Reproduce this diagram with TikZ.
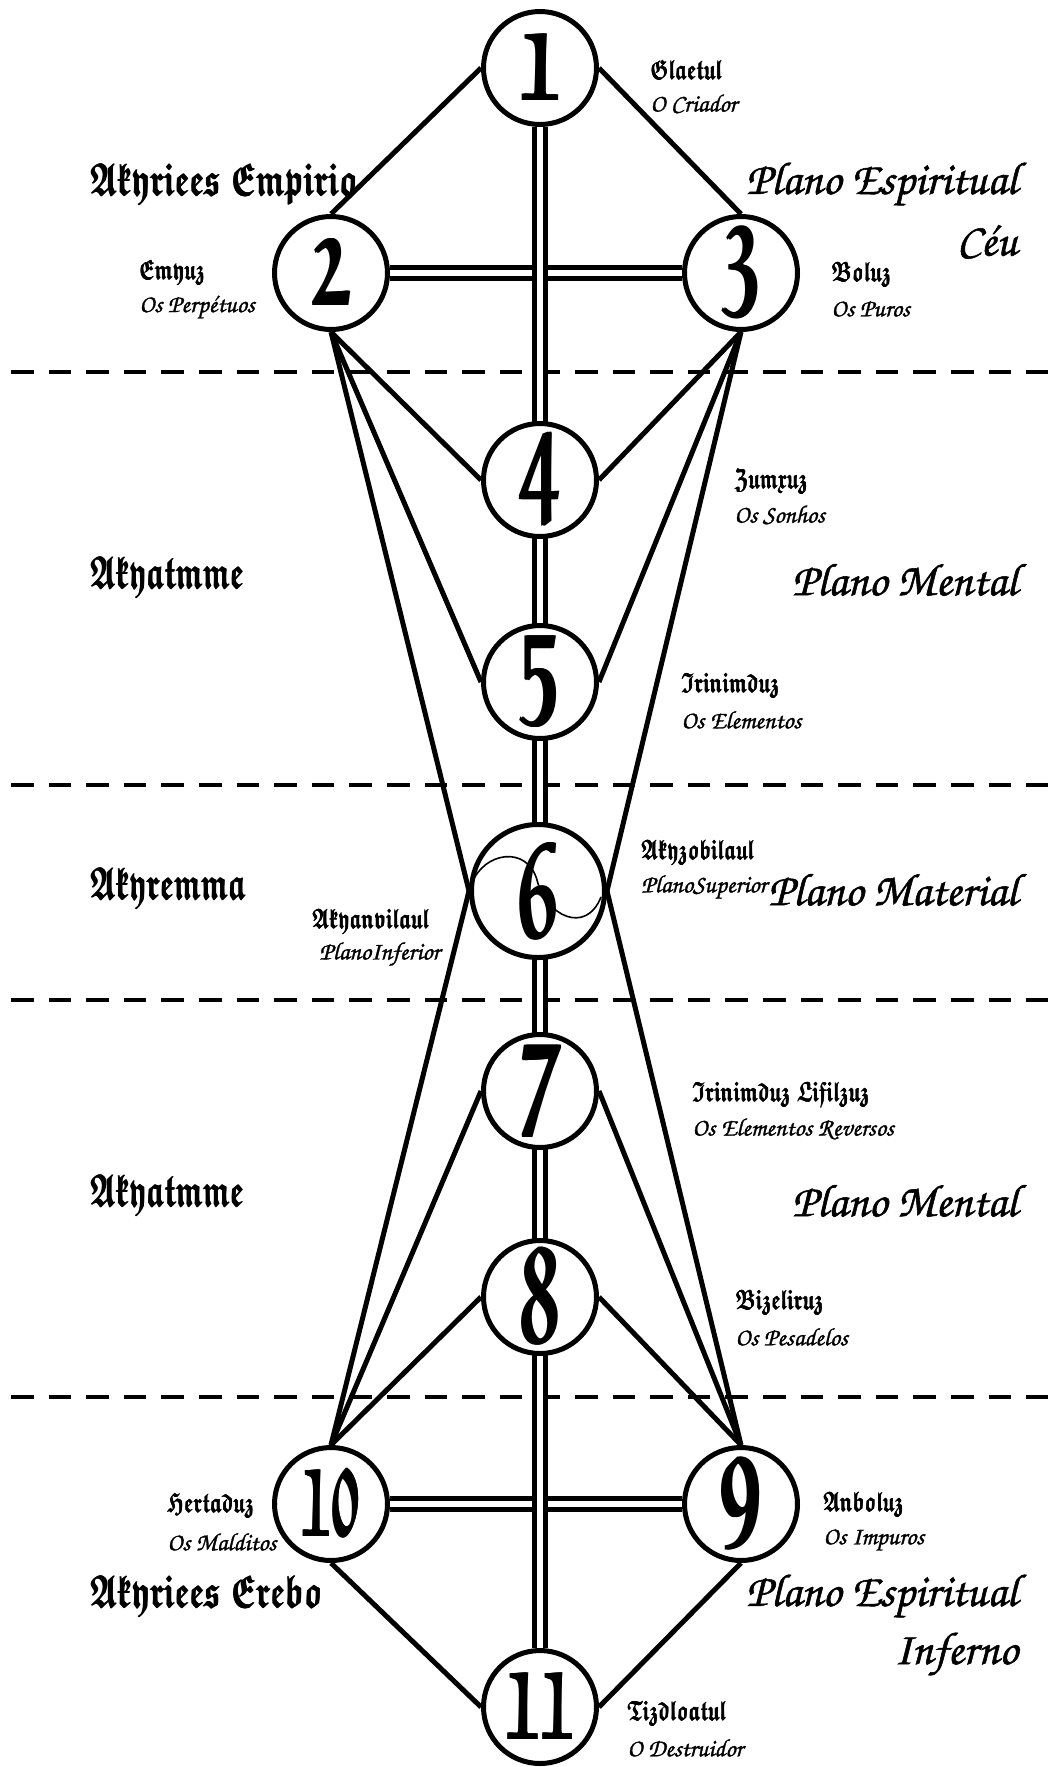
\documentclass[tikz,border=0pt]{standalone}
\usepackage{fontspec}
\usepackage{amsfonts}
\usepackage{graphicx}
\usetikzlibrary{backgrounds}

% calligraphic italic
\newfontfamily\chanc[FakeBold=1.2]{TeX Gyre Chorus}
% bold Euler Fraktur for the blackletter names and numerals
\newcommand\frk{\fontencoding{U}\fontfamily{euf}\fontseries{b}\fontshape{n}\selectfont}
\newcommand\gap{\hspace{0.35em}}
% thicken the vertical strokes by overprinting with small shifts
\newcommand\heavy[2]{\leavevmode\rlap{\hspace{#1}#2}\rlap{\hspace{-#1}#2}#2}
% narrow, tall blackletter
\newcommand\narrow[3]{\scalebox{#1}[1]{\heavy{#2}{#3}}}
\newcommand\numeral[2][0.77]{\scalebox{#1}[1.55]{\heavy{0.7pt}{#2}}}

\tikzset{
  sephira/.style={circle, draw, line width=2.5pt, fill=white, inner sep=0pt,
    minimum size=56.5pt, font=\frk\fontsize{44}{44}\selectfont},
  link/.style={line width=2.5pt},
  twin/.style={double, line width=2.5pt, double distance=2.6pt},
  divider/.style={line width=2pt, dash pattern=on 11.3pt off 7.5pt},
  bignameL/.style={anchor=west, inner sep=0pt, font=\frk\fontsize{23}{23}\selectfont},
  planeR/.style={anchor=east, inner sep=0pt, font=\chanc\fontsize{23}{23}\selectfont},
  nameL/.style={anchor=west, inner sep=0pt, font=\frk\fontsize{14}{14}\selectfont},
  glossL/.style={anchor=west, inner sep=0pt, font=\chanc\fontsize{12.5}{12.5}\selectfont},
}

\begin{document}
\begin{tikzpicture}[x=0.5pt, y=-0.5pt]
\useasboundingbox (0,0) rectangle (1048,1767);

% the eleven spheres
\node[sephira] (n1)  at (540,68)   {\numeral{1}};
\node[sephira] (n2)  at (331,273)  {\numeral{2}};
\node[sephira] (n3)  at (741,273)  {\numeral{3}};
\node[sephira] (n4)  at (540,480)  {\numeral{4}};
\node[sephira] (n5)  at (540,682)  {\numeral{5}};
\node[sephira, minimum size=66.5pt] (n6) at (538,891) {\numeral{6}};
\node[sephira] (n7)  at (540,1091) {\numeral{7}};
\node[sephira] (n8)  at (540,1297) {\numeral{8}};
\node[sephira] (n10) at (331,1504) {\numeral[0.58]{10}};
\node[sephira] (n9)  at (741,1504) {\numeral{9}};
\node[sephira] (n11) at (540,1707) {\numeral[0.66]{11}};

% thin loop inside sphere 6
\draw[line width=0.8pt] (472,883) .. controls (484,852) and (527,845) .. (537,880)
  .. controls (546,916) and (586,935) .. (601,897);

\begin{pgfonlayer}{background}
  % dividing lines between the planes
  \coordinate (dL1) at (11,372);   \coordinate (dR1) at (1048,372);
  \coordinate (dL2) at (11,785);   \coordinate (dR2) at (1048,785);
  \coordinate (dL3) at (11,1000);  \coordinate (dR3) at (1048,1000);
  \coordinate (dL4) at (11,1397);  \coordinate (dR4) at (1048,1397);
  \draw[divider] (dL1) -- (dR1);
  \draw[divider] (dL2) -- (dR2);
  \draw[divider] (dL3) -- (dR3);
  \draw[divider] (dL4) -- (dR4);

  % single paths
  \draw[link] (n1.west) -- (n2.north);
  \draw[link] (n1.east) -- (n3.north);
  \draw[link] (n2.south) -- (n4.west);
  \draw[link] (n2.south) -- (n5.west);
  \draw[link] (n2.south) -- (n6.west);
  \draw[link] (n3.south) -- (n4.east);
  \draw[link] (n3.south) -- (n5.east);
  \draw[link] (n3.south) -- (n6.east);
  \draw[link] (n10.north) -- (n7.west);
  \draw[link] (n10.north) -- (n8.west);
  \draw[link] (n10.north) -- (n6.west);
  \draw[link] (n9.north) -- (n7.east);
  \draw[link] (n9.north) -- (n8.east);
  \draw[link] (n9.north) -- (n6.east);
  \draw[link] (n10.south) -- (n11.west);
  \draw[link] (n9.south) -- (n11.east);

  % double paths
  \draw[twin] (n2.east) -- (n3.west);
  \draw[twin] (n10.east) -- (n9.west);
  \draw[twin] (n1.south) -- (n11.north);
\end{pgfonlayer}

% plane names, left
\node[bignameL] (aemp) at (90,184)   {\narrow{0.68}{0.35pt}{Akyriees\gap Empirio}};
\node[bignameL] (aat1) at (90,577)   {\narrow{0.64}{0.35pt}{Akyatmme}};
\node[bignameL] (arem) at (90,888)   {\narrow{0.64}{0.35pt}{Akyremma}};
\node[bignameL] (aat2) at (90,1195)  {\narrow{0.64}{0.35pt}{Akyatmme}};
\node[bignameL] (aere) at (90,1596)  {\narrow{0.68}{0.35pt}{Akyriees\gap Erebo}};

% plane names, right
\node[planeR] (pesp1) at (1018,184)  {Plano Espiritual};
\node[planeR] (pceu)  at (1018,242)  {Céu};
\node[planeR] (pmen1) at (1018,580)  {Plano Mental};
\node[planeR] (pmat)  at (1018,890)  {Plano Material};
\node[planeR] (pmen2) at (1018,1201) {Plano Mental};
\node[planeR] (pesp2) at (1018,1596) {Plano Espiritual};
\node[planeR] (pinf)  at (1018,1654) {Inferno};

% sphere names and glosses
\node[nameL]  (t1a)  at (650,70)   {\narrow{0.7}{0.22pt}{Glaetul}};
\node[glossL] (t1b)  at (650,104)  {O Criador};
\node[nameL]  (t2a)  at (139,272)  {\narrow{0.7}{0.22pt}{Emyuz}};
\node[glossL] (t2b)  at (139,307)  {Os Perpétuos};
\node[nameL]  (t3a)  at (831,274)  {\narrow{0.7}{0.22pt}{Boluz}};
\node[glossL] (t3b)  at (831,309)  {Os Puros};
\node[nameL]  (t4a)  at (734,481)  {\narrow{0.7}{0.22pt}{Zumxuz}};
\node[glossL] (t4b)  at (734,515)  {Os Sonhos};
\node[nameL]  (t5a)  at (681,685)  {\narrow{0.7}{0.22pt}{Irinimduz}};
\node[glossL] (t5b)  at (681,720)  {Os Elementos};
\node[nameL]  (t6a)  at (641,852)  {\narrow{0.7}{0.22pt}{Akyzobilaul}};
\node[glossL] (t6b)  at (641,887)  {PlanoSuperior};
\node[nameL]  (t6c)  at (312,921)  {\narrow{0.7}{0.22pt}{Akyanvilaul}};
\node[glossL] (t6d)  at (319,954)  {PlanoInferior};
\node[nameL]  (t7a)  at (692,1094) {\narrow{0.7}{0.22pt}{Irinimduz\gap Lifilzuz}};
\node[glossL] (t7b)  at (692,1129) {Os Elementos Reversos};
\node[nameL]  (t8a)  at (735,1302) {\narrow{0.7}{0.22pt}{Bizeliruz}};
\node[glossL] (t8b)  at (735,1337) {Os Pesadelos};
\node[nameL]  (t10a) at (167,1505) {\narrow{0.7}{0.22pt}{Hertaduz}};
\node[glossL] (t10b) at (167,1542) {Os Malditos};
\node[nameL]  (t9a)  at (823,1504) {\narrow{0.7}{0.22pt}{Anboluz}};
\node[glossL] (t9b)  at (823,1540) {Os Impuros};
\node[nameL]  (t11a) at (627,1713) {\narrow{0.7}{0.22pt}{Tizdloatul}};
\node[glossL] (t11b) at (627,1748) {O Destruidor};
\end{tikzpicture}
\end{document}
